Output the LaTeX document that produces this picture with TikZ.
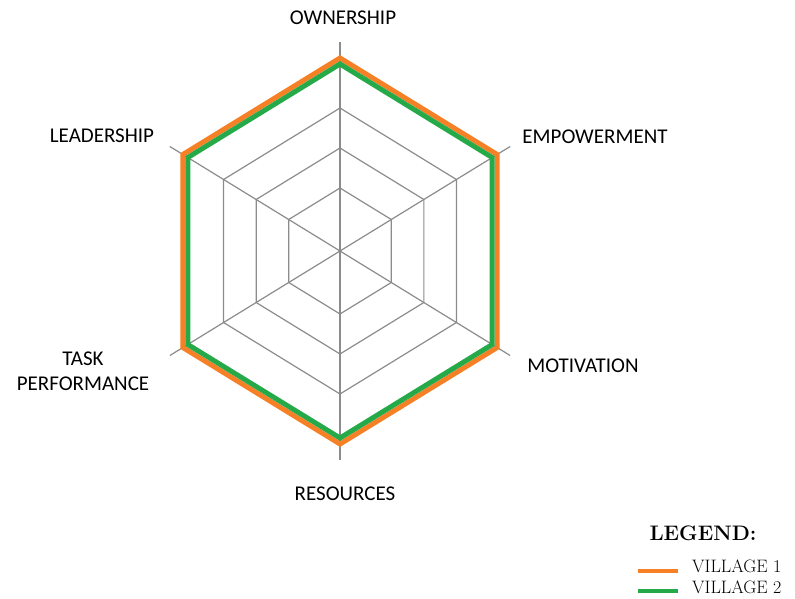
\documentclass[tikz,border=0pt]{standalone}
\usepackage{fontspec}
\usepackage{xcolor}
\newfontfamily\axisfont{Carlito}
\definecolor{villageone}{RGB}{245,128,37}
\definecolor{villagetwo}{RGB}{38,170,73}
\definecolor{gridgray}{RGB}{140,140,140}
\usetikzlibrary{positioning}

\begin{document}
\begin{tikzpicture}[x=1pt,y=-1pt,
    axislabel/.style={font=\axisfont\fontsize{21}{25}\selectfont, inner sep=0pt, align=center},
    legendtext/.style={font=\fontsize{18}{21}\selectfont, inner sep=0pt, anchor=west},
    gridline/.style={gridgray, line width=1.2pt},
    legendline/.style={line width=4.5pt}]
  \useasboundingbox[fill=white] (0,0) rectangle (795,598);
  % radar grid and the two villages
  \begin{scope}[shift={(340,251)}, x=0.94pt, y=1pt]
    \coordinate (centre) at (0,0);
    \foreach \r in {63,103,143}
      \draw[gridline] (90:\r) -- (30:\r) -- (-30:\r) -- (-90:\r) -- (-150:\r) -- (150:\r) -- cycle;
    \foreach \a in {90,30,-30,-90,-150,150}
      \draw[gridline] (centre) -- (\a:209);
    \draw[villageone, line width=5pt] (90:193) -- (30:193) -- (-30:193) -- (-90:193) -- (-150:193) -- (150:193) -- cycle;
    \draw[villagetwo, line width=5pt] (90:187) -- (30:187) -- (-30:187) -- (-90:187) -- (-150:187) -- (150:187) -- cycle;
  \end{scope}
  % axis labels
  \node[axislabel] (ownership) at (343,18) {OWNERSHIP};
  \node[axislabel] (empowerment) at (595,137) {EMPOWERMENT};
  \node[axislabel] (motivation) at (583,366) {MOTIVATION};
  \node[axislabel] (resources) at (345,494) {RESOURCES};
  \node[axislabel] (task) at (83,371) {TASK\\PERFORMANCE};
  \node[axislabel] (leadership) at (102,136) {LEADERSHIP};
  % legend
  \node[font=\bfseries\fontsize{21}{25}\selectfont, inner sep=0pt] (legend) at (703,533) {LEGEND:};
  \node[legendtext] (villone) at (692,566) {VILLAGE 1};
  \node[legendtext] (villtwo) at (692,587) {VILLAGE 2};
  \coordinate (lineone) at (638,571);
  \coordinate (linetwo) at (638,591);
  \draw[legendline, villageone] (lineone) -- ++(40,0);
  \draw[legendline, villagetwo] (linetwo) -- ++(40,0);
\end{tikzpicture}
\end{document}
